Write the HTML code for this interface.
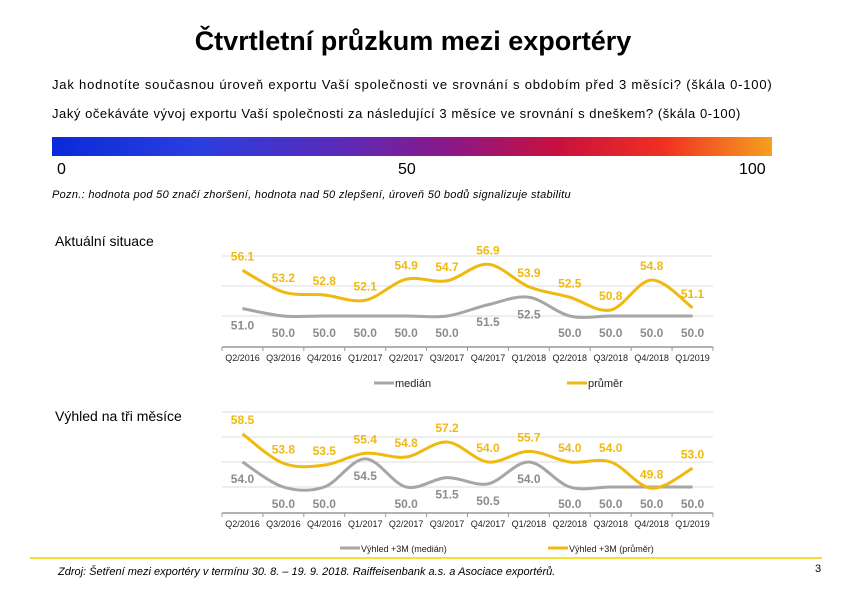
<!DOCTYPE html>
<html><head><meta charset="utf-8"><style>
body{margin:0;width:842px;height:595px;background:#fff;font-family:"Liberation Sans",sans-serif;position:relative;overflow:hidden}
.t{position:absolute;white-space:nowrap}
</style></head><body>
<div class="t" style="left:0;width:826px;text-align:center;top:26px;font-size:27px;font-weight:bold">Čtvrtletní průzkum mezi exportéry</div>
<div class="t" style="left:52px;top:77px;font-size:13px;letter-spacing:0.8px">Jak hodnotíte současnou úroveň exportu Vaší společnosti ve srovnání s obdobím před 3 měsíci? (škála 0-100)</div>
<div class="t" style="left:52px;top:106px;font-size:13px;letter-spacing:0.55px">Jaký očekáváte vývoj exportu Vaší společnosti za následující 3 měsíce ve srovnání s dneškem? (škála 0-100)</div>
<div style="position:absolute;left:52px;top:137px;width:720px;height:19px;background:linear-gradient(to right,#0a2ad8 0%,#2a3ee0 20%,#5a2ab8 40%,#8a1888 55%,#c81040 70%,#f03020 85%,#f5a020 100%)"></div>
<div class="t" style="left:57px;top:161px;font-size:16px">0</div>
<div class="t" style="left:398px;top:161px;font-size:16px">50</div>
<div class="t" style="left:739px;top:161px;font-size:16px">100</div>
<div class="t" style="left:52px;top:189px;font-size:11px;font-style:italic;letter-spacing:0.3px">Pozn.: hodnota pod 50 značí zhoršení, hodnota nad 50 zlepšení, úroveň 50 bodů signalizuje stabilitu</div>
<div class="t" style="left:55px;top:233px;font-size:14px">Aktuální situace</div>
<div class="t" style="left:55px;top:408px;font-size:14px">Výhled na tři měsíce</div>
<svg id="c" width="842" height="595" style="position:absolute;left:0;top:0"></svg>
<div style="position:absolute;left:30px;top:557px;width:792px;height:2px;background:#f5e030"></div>
<div class="t" style="left:58px;top:566px;font-size:11px;font-style:italic">Zdroj: Šetření mezi exportéry v termínu 30. 8. – 19. 9. 2018. Raiffeisenbank a.s. a Asociace exportérů.</div>
<div class="t" style="left:815px;top:563px;font-size:11px">3</div>
<script>
const categories=["Q2/2016","Q3/2016","Q4/2016","Q1/2017","Q2/2017","Q3/2017","Q4/2017","Q1/2018","Q2/2018","Q3/2018","Q4/2018","Q1/2019"];
const curAvg=[56.1,53.2,52.8,52.1,54.9,54.7,56.9,53.9,52.5,50.8,54.8,51.1];
const curMed=[51.0,50.0,50.0,50.0,50.0,50.0,51.5,52.5,50.0,50.0,50.0,50.0];
const outAvg=[58.5,53.8,53.5,55.4,54.8,57.2,54.0,55.7,54.0,54.0,49.8,53.0];
const outMed=[54.0,50.0,50.0,54.5,50.0,51.5,50.5,54.0,50.0,50.0,50.0,50.0];
const topGrid=[50,54,58];
const botGrid=[50,54,58,62];
const svg=document.getElementById('c');const NS='http://www.w3.org/2000/svg';
function mk(t,a,txt){const e=document.createElementNS(NS,t);for(const k in a)e.setAttribute(k,a[k]);if(txt!==undefined)e.textContent=txt;svg.appendChild(e);return e;}
function smooth(p){let d='M'+p[0][0]+','+p[0][1];for(let i=0;i<p.length-1;i++){const p0=p[i-1]||p[i],p1=p[i],p2=p[i+1],p3=p[i+2]||p2;d+=' C'+(p1[0]+(p2[0]-p0[0])/6)+','+(p1[1]+(p2[1]-p0[1])/6)+' '+(p2[0]-(p3[0]-p1[0])/6)+','+(p2[1]-(p3[1]-p1[1])/6)+' '+p2[0]+','+p2[1];}return d;}
function chart(cfg){
 const x0=222,x1=713,bw=(x1-x0)/categories.length;
 const xs=i=>x0+bw*(i+0.5);
 const ys=v=>cfg.base-(v-50)*cfg.ppu;
 cfg.grid.forEach(g=>{const l=mk('line',{x1:x0,x2:x1,y1:ys(g),y2:ys(g),stroke:'#dcdcdc','stroke-width':1});});
 const ax=mk('line',{x1:x0,x2:x1,y1:cfg.axis,y2:cfg.axis,stroke:'#999','stroke-width':1.5});
 for(let i=0;i<=categories.length;i++){const tk=mk('line',{x1:x0+bw*i,x2:x0+bw*i,y1:cfg.axis,y2:cfg.axis+4,stroke:'#999'});}
 categories.forEach((c,i)=>{const t=mk('text',{x:xs(i),y:cfg.axis+14,'font-size':9,'text-anchor':'middle',fill:'#222'},c);});
 [[cfg.med,'#a6a6a6','#8c8c8c',16,'median'],[cfg.avg,'#f0b90f','#f0b90f',-15,'average']].forEach(([vals,col,tc,off,nm])=>{
  const pts=vals.map((v,i)=>[xs(i),ys(v)]);
  const p=mk('path',{d:smooth(pts),fill:'none',stroke:col,'stroke-width':3});
  vals.forEach((v,i)=>{const t=mk('text',{x:xs(i),y:ys(v)+off+5,'font-size':12,'font-weight':'bold','text-anchor':'middle',fill:tc},v.toFixed(1));});
 });
 cfg.legend.forEach(([lx,col,txt])=>{const l=mk('line',{x1:lx,x2:lx+20,y1:cfg.ly,y2:cfg.ly,stroke:col,'stroke-width':3});
  const t=mk('text',{x:lx+21,y:cfg.ly+4,'font-size':cfg.lfs,fill:'#222'},txt);});
}
chart({avg:curAvg,med:curMed,base:316,ppu:7.5,axis:347,grid:topGrid,ly:383,lfs:11,legend:[[374,'#a6a6a6','medián'],[567,'#f0b90f','průměr']]});
chart({avg:outAvg,med:outMed,base:487,ppu:6.25,axis:513,grid:botGrid,ly:548,lfs:9,legend:[[340,'#a6a6a6','Výhled +3M (medián)'],[548,'#f0b90f','Výhled +3M (průměr)']]});
</script>
</body></html>
